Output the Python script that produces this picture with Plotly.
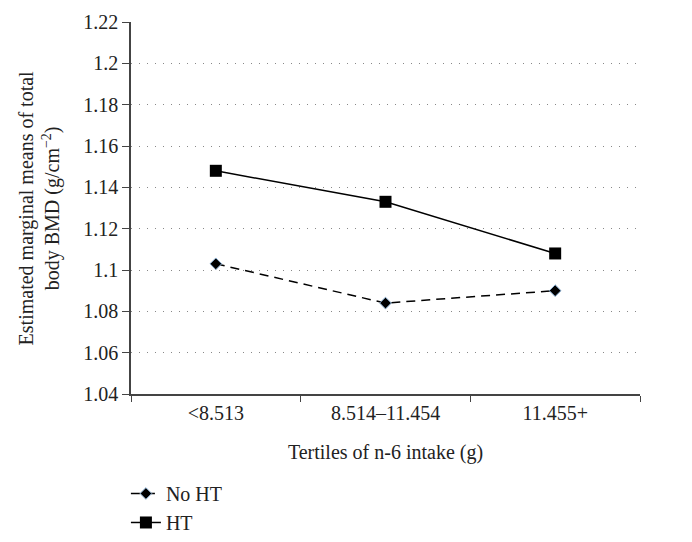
import plotly.graph_objects as go

categories = ["<8.513", "8.514–11.454", "11.455+"]
no_ht = [1.103, 1.084, 1.090]
ht = [1.148, 1.133, 1.108]
y_ticks = [1.04, 1.06, 1.08, 1.1, 1.12, 1.14, 1.16, 1.18, 1.2, 1.22]
y_tick_text = ["1.04", "1.06", "1.08", "1.1", "1.12", "1.14", "1.16", "1.18", "1.2", "1.22"]

FONT = "Liberation Serif"
FS = 20

fig = go.Figure()
fig.add_trace(go.Scatter(
    x=categories, y=no_ht, name="No HT", mode="lines+markers",
    line=dict(color="black", width=1.5, dash="9px,6px"),
    marker=dict(symbol="diamond", size=9, color="black",
                line=dict(color="#8fb4d8", width=1)),
))
fig.add_trace(go.Scatter(
    x=categories, y=ht, name="HT", mode="lines+markers",
    line=dict(color="black", width=1.5),
    marker=dict(symbol="square", size=12, color="black"),
))

fig.update_layout(
    width=684, height=534,
    margin=dict(l=123, r=52, t=14, b=148, autoexpand=False),
    paper_bgcolor="white", plot_bgcolor="white",
    font=dict(family=FONT, size=FS, color="#222"),
    showlegend=True,
    legend=dict(x=-0.01, y=-0.215, xanchor="left", yanchor="top",
                font=dict(size=FS), tracegroupgap=0, itemwidth=30,
                bgcolor="rgba(0,0,0,0)"),
    xaxis=dict(
        type="category", range=[-0.5, 2.5], showline=True, linecolor="#444", linewidth=1.5,
        ticks="outside", tickson="boundaries", ticklen=6, tickcolor="#444",
        showgrid=False, zeroline=False, mirror=False, automargin=False,
        title=dict(text="Tertiles of n-6 intake (g)", font=dict(size=FS), standoff=22),
        tickfont=dict(size=FS),
    ),
    yaxis=dict(
        range=[1.04, 1.22], tickvals=y_ticks, ticktext=y_tick_text,
        showline=True, linecolor="#444", linewidth=1.5, automargin=False,
        ticks="outside", ticklen=7, tickcolor="#444",
        showgrid=True, gridcolor="#888", gridwidth=1.2, griddash="1px,7px",
        zeroline=False, tickfont=dict(size=FS),
    ),
    annotations=[dict(
        text="Estimated marginal means of total<br>body BMD (g/cm<sup>−2</sup>)",
        xref="paper", yref="paper", x=-0.18, y=0.5, xanchor="center", yanchor="middle",
        textangle=-90, showarrow=False, font=dict(size=FS, family=FONT),
    )],
)

fig.write_html("out.html")
